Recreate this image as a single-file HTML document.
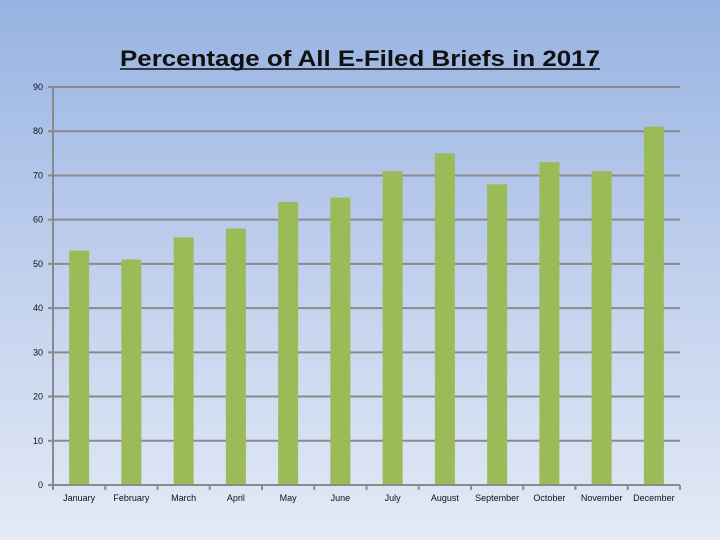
<!DOCTYPE html>
<html><head><meta charset="utf-8">
<style>
html,body{margin:0;padding:0;width:720px;height:540px;overflow:hidden}
body{background:linear-gradient(to bottom,#97b3e2 0%,#bccdec 45%,#e4eaf6 100%);font-family:"Liberation Sans",sans-serif}
</style></head>
<body>
<svg id="chart" width="720" height="540" xmlns="http://www.w3.org/2000/svg">
<text x="120" y="66" textLength="480" lengthAdjust="spacingAndGlyphs" font-family="Liberation Sans, sans-serif" font-size="22" font-weight="bold" fill="#111">Percentage of All E-Filed Briefs in 2017</text>
<line x1="120" y1="69" x2="600" y2="69" stroke="#111" stroke-width="1.5"/>
<g id="grid"></g><g id="bars"></g><g id="axes"></g>
</svg>
<script>
const categories=["January","February","March","April","May","June","July","August","September","October","November","December"];
const values=[53,51,56,58,64,65,71,75,68,73,71,81];
const yTicks=[0,10,20,30,40,50,60,70,80,90];
const NS="http://www.w3.org/2000/svg";
const x0=53,x1=680,yb=485,yt=87,ymax=90;
const y=v=>yb-(v/ymax)*(yb-yt);
const step=(x1-x0)/categories.length;
const xc=i=>x0+step*(i+0.5);
function mk(tag,attrs,parent,txt){const e=document.createElementNS(NS,tag);for(const k in attrs)e.setAttribute(k,attrs[k]);if(txt!=null)e.textContent=txt;document.getElementById(parent).appendChild(e);return e;}
yTicks.forEach(t=>{
 const l=mk('line',{x1:x0-5,x2:x1,y1:y(t),y2:y(t),stroke:'#8a8a8a','stroke-width':2},'grid');
 
 
 const tx=mk('text',{x:x0-10,y:y(t)+3,'text-anchor':'end','font-size':9,fill:'#111'},'grid',t);
 
 
});
values.forEach((v,i)=>{
 const r=mk('rect',{x:xc(i)-10,y:y(v),width:20,height:yb-y(v),fill:'#9bbb59'},'bars');
 
 
 const tx=mk('text',{x:xc(i),y:yb+16,'text-anchor':'middle','font-size':9,fill:'#111'},'axes',categories[i]);
 
 
});
for(let i=0;i<=categories.length;i++){
 const tk=mk('line',{x1:x0+step*i,x2:x0+step*i,y1:yb,y2:yb+5,stroke:'#8a8a8a','stroke-width':2},'axes');
 
 
}
const ya=mk('line',{x1:x0,x2:x0,y1:yt,y2:yb,stroke:'#8a8a8a','stroke-width':2},'axes');


const xa=mk('line',{x1:x0,x2:x1,y1:yb,y2:yb,stroke:'#8a8a8a','stroke-width':2},'axes');


</script>
</body></html>
